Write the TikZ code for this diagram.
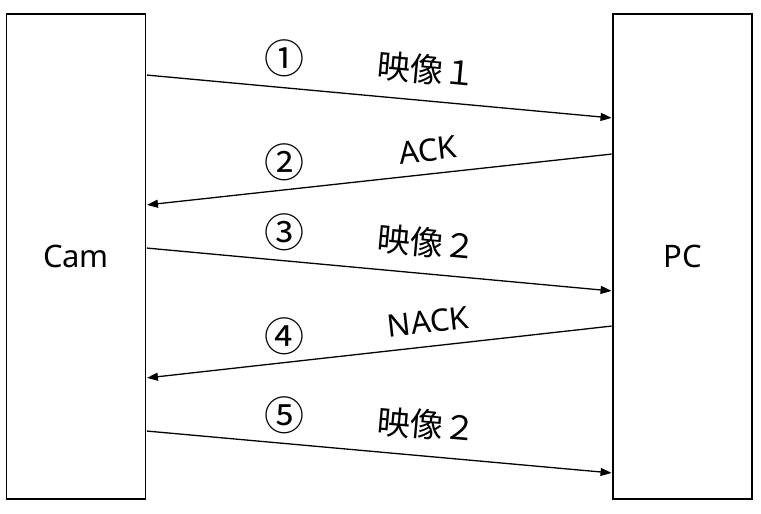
\documentclass[tikz,border=0pt]{standalone}
\usepackage{fontspec}
\setmainfont{Noto Sans}
\newfontfamily\jp{Noto Sans CJK JP}
\usetikzlibrary{arrows.meta}
\begin{document}
\begin{tikzpicture}[x=1pt, y=-1pt, >={Triangle[length=11pt,width=8pt]},
    every node/.style={font=\fontsize{31}{36}\selectfont},
    box/.style={draw, line width=1.5pt, minimum width=139pt, minimum height=485pt, inner sep=0pt},
    msg/.style={->, line width=1.3pt, shorten >=0.7pt, shorten <=0.7pt},
    num/.style={font=\jp\fontsize{40}{42}\selectfont, inner sep=0pt},
    lbl/.style={font=\jp\fontsize{33}{36}\selectfont, inner sep=0pt}]
    \useasboundingbox (0,0) rectangle (761,514);

    % devices
    \node[box](cam) at (76,256.5){Cam};
    \node[box](pc) at (682.5,256.5){PC};

    % messages
    \draw[msg](cam.east|-0,75)--(pc.west|-0,118);
    \draw[msg](pc.west|-0,154)--(cam.east|-0,205);
    \draw[msg](cam.east|-0,248)--(pc.west|-0,291);
    \draw[msg](pc.west|-0,326)--(cam.east|-0,378);
    \draw[msg](cam.east|-0,431)--(pc.west|-0,473);

    % numbers
    \foreach \y[count=\i] in {58,162,232,336,415}
    {\node[num](n\i) at (284,\y){\ifcase\i\or ①\or ②\or ③\or ④\or ⑤\fi};}

    % labels
    \node[lbl, rotate=-5.3](t1) at (427,70){映像１};
    \node[inner sep=0pt, rotate=6.2](t2) at (428,150){ACK};
    \node[lbl, rotate=-5.3](t3) at (427,243){映像２};
    \node[inner sep=0pt, rotate=6.4](t4) at (428,322){NACK};
    \node[lbl, rotate=-5.1](t5) at (427,425){映像２};
\end{tikzpicture}
\end{document}
